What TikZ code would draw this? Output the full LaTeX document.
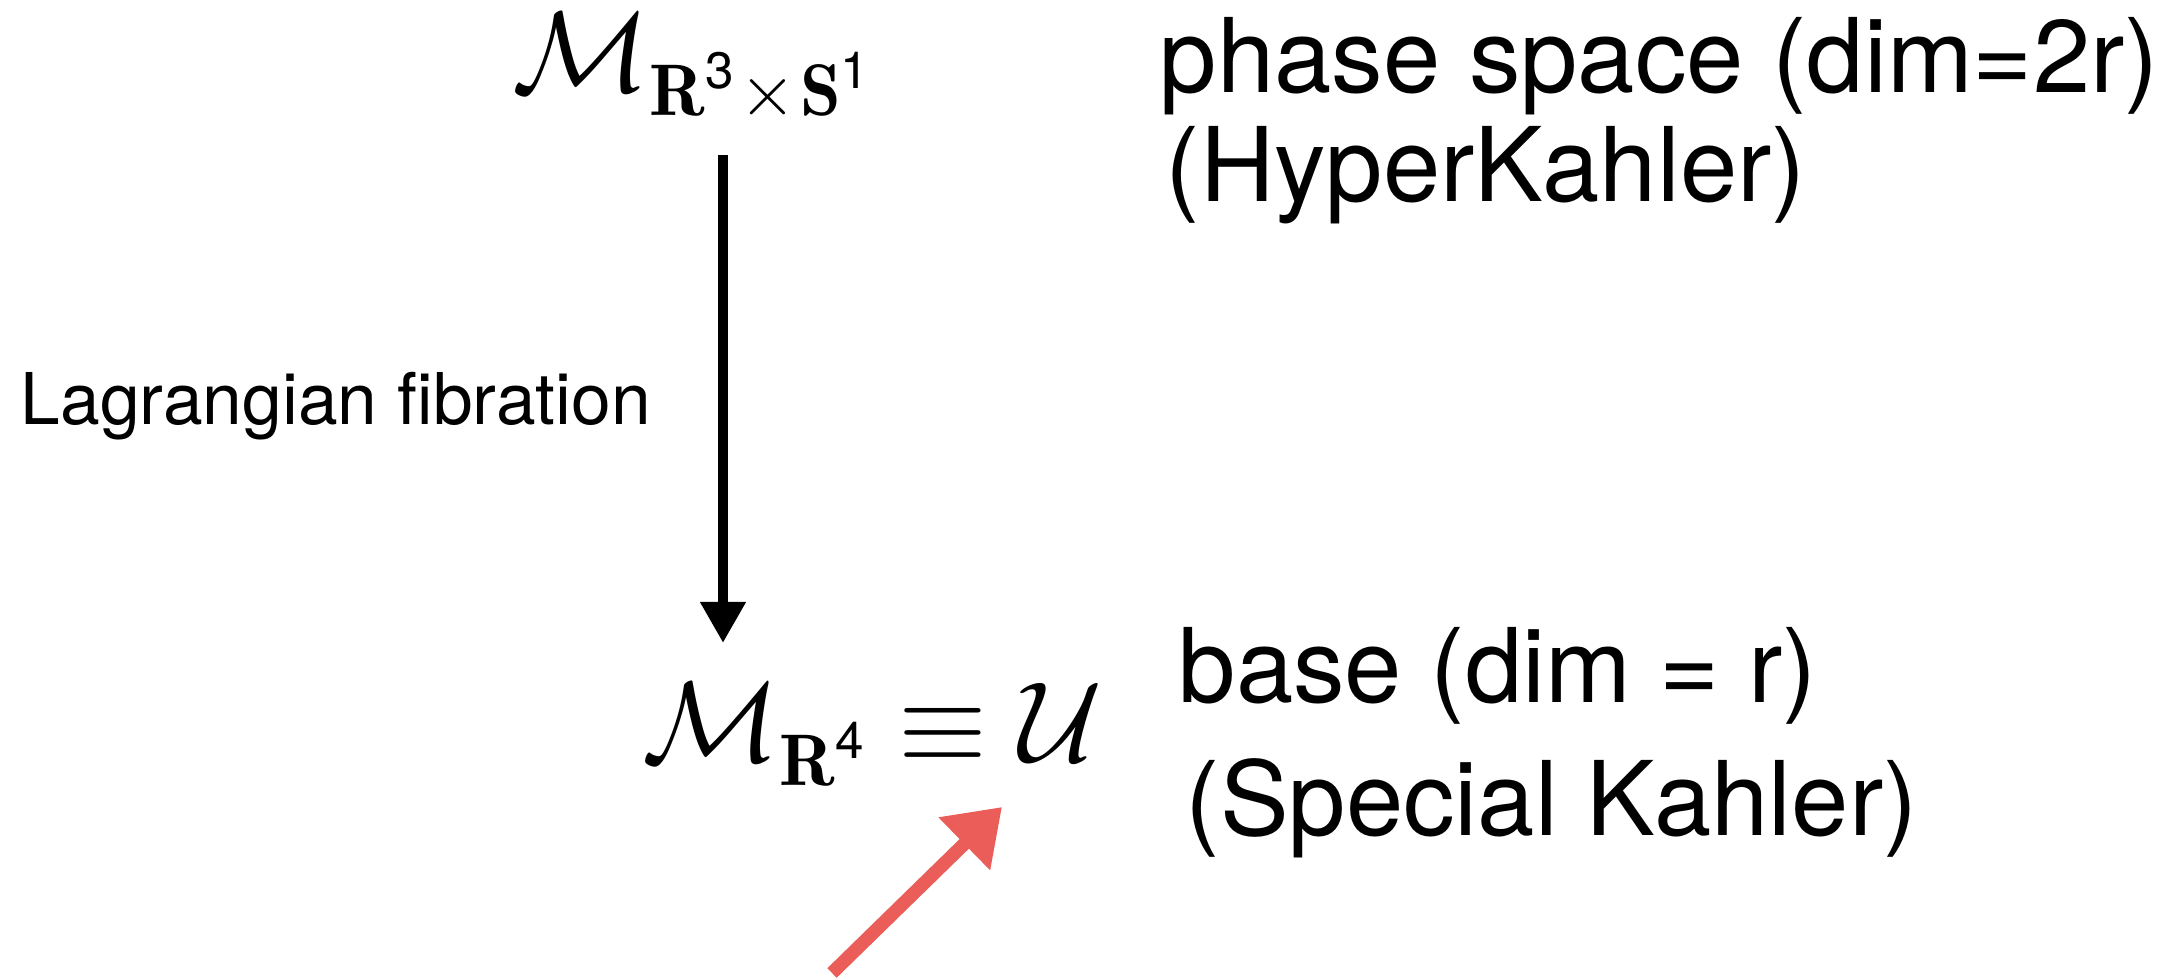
\RequirePackage{fix-cm}
\documentclass[tikz,border=0pt]{standalone}
\usepackage{amsmath}
\usepackage{fontspec}
\setsansfont{TeX Gyre Heros}
\usetikzlibrary{arrows.meta}
\definecolor{chalkred}{RGB}{234,93,88}

\begin{document}
\begin{tikzpicture}[x=0.01cm,y=-0.01cm,
  lbl/.style={anchor=base west, inner sep=0pt, font=\sffamily\fontsize{29.3}{35}\selectfont},
  mth/.style={anchor=base west, inner sep=0pt, font=\fontsize{32.5}{39}\selectfont},
  fibre/.style={line width=2.85pt, -{Triangle[length=11.7pt,width=12.3pt]}},
  pointer/.style={chalkred, line width=3.8pt, -{Triangle[length=15pt,width=20pt]}}]
\useasboundingbox (0,0) rectangle (2176,980);
\node[mth] (mtop) at (512,92) {$\mathcal{M}_{\scalebox{0.64}{$\medmuskip=1mu\mathbf{R}^{\textsf{3}}\times\mathbf{S}^{\textsf{1}}$}}$};
\node[mth] (mbot) at (642,762) {$\mathcal{M}_{\scalebox{0.64}{$\mathbf{R}^{\textsf{4}}$}}\equiv\mathcal{U}$};
\node[lbl] (phase) at (1159,93) {phase space (dim=2r)};
\node[lbl] (hyper) at (1165,202) {(HyperKahler)};
\node[lbl] (base) at (1178,703) {base (dim = r)};
\node[lbl] (spec) at (1185,836) {(Special Kahler)};
\node[lbl, font=\sffamily\fontsize{20.3}{24}\selectfont] (lagr) at (20,425) {Lagrangian fibration};
\coordinate (fibtop) at (723,155);
\coordinate (fibend) at (723,643);
\draw[fibre] (fibtop) -- (fibend);
\coordinate (redtail) at (832,973);
\coordinate (redtip) at (1002,807);
\draw[pointer] (redtail) -- (redtip);
\end{tikzpicture}
\end{document}
